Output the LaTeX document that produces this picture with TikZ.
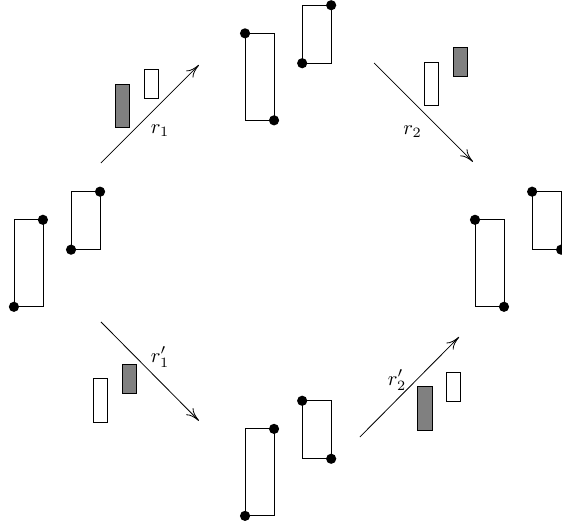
\documentclass[tikz,border=0pt]{standalone}
\usepackage{amsmath,amssymb}
\usetikzlibrary{positioning,calc,arrows,arrows.meta}

\begin{document}
\begin{tikzpicture}[x=0.5cm,y=0.5cm,>={To[length=2.3mm,width=1.7mm]}]



\newcommand{\wid}{1}
\newcommand{\bigh}{3}
\newcommand{\smallh}{2}
\newcommand{\shift}{1.97}
\newcommand{\dotr}{2.5pt}

\useasboundingbox (0,0) rectangle (19.38,18.17);

% lower left corners of the four configurations
\coordinate (L) at (0.48,7.59);
\coordinate (T) at (8.45,14.02);
\coordinate (R) at (16.38,7.59);
\coordinate (B) at (8.45,0.38);

\foreach \g in {L,T,R,B}{
\draw (\g) rectangle ++(\wid,\bigh);
\draw ($(\g)+(\shift,\shift)$) rectangle ++(\wid,\smallh);
}

\foreach \g/\x/\y in {L/0/0, L/1/3, L/2.97/3.97, L/1.97/1.97,
                      T/0/3, T/1/0, T/2.97/3.97, T/1.97/1.97,
                      R/0/3, R/1/0, R/1.97/3.97, R/2.97/1.97,
                      B/1/3, B/0/0, B/1.97/3.97, B/2.97/1.97}
\fill ($(\g)+(\x,\y)$) circle (\dotr);



\coordinate (r1s) at (3.48,12.55);
\coordinate (r1e) at (6.86,15.93);
\coordinate (r2s) at (12.9,16.0);
\coordinate (r2e) at (16.31,12.59);
\coordinate (q1s) at (3.48,7.07);
\coordinate (q1e) at (6.86,3.66);
\coordinate (q2s) at (12.41,3.1);
\coordinate (q2e) at (15.83,6.55);

\draw[->] (r1s) -- (r1e);
\draw[->] (r2s) -- (r2e);
\draw[->] (q1s) -- (q1e);
\draw[->] (q2s) -- (q2e);

\node (lr1) at (5.52,13.66) {$r_1$};
\node (lr2) at (14.23,13.63) {$r_2$};
\node (lq1) at (5.52,5.86) {$r'_1$};
\node (lq2) at (13.69,5.07) {$r'_2$};

% the small blocks beside the arrows
\draw[fill=gray] (3.97,13.76) rectangle ++(0.5,1.5);
\draw (4.97,14.76) rectangle ++(0.5,1);

\draw (14.62,14.52) rectangle ++(0.5,1.5);
\draw[fill=gray] (15.62,15.52) rectangle ++(0.5,1);

\draw (3.21,3.62) rectangle ++(0.5,1.5);
\draw[fill=gray] (4.21,4.62) rectangle ++(0.5,1);

\draw[fill=gray] (14.41,3.34) rectangle ++(0.5,1.5);
\draw (15.38,4.34) rectangle ++(0.5,1);

\end{tikzpicture}
\end{document}
